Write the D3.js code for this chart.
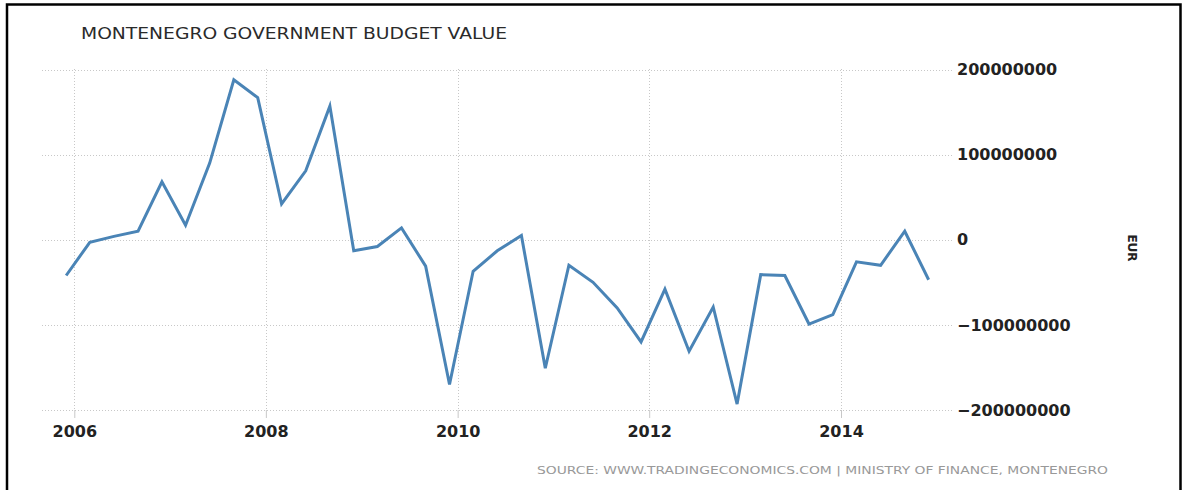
<!DOCTYPE html>
<html>
<head>
<meta charset="utf-8">
<script src="https://cdn.jsdelivr.net/npm/d3@7"></script>
<style>
  body { margin: 0; background: #fff; }
  svg { display: block; }
</style>
</head>
<body>
<svg id="chart" width="1182" height="490"></svg>
<script>
// quarterly budget values, millions EUR
var dates = ["2005-12", "2006-03", "2006-06", "2006-09", "2006-12", "2007-03", "2007-06", "2007-09",
  "2007-12", "2008-03", "2008-06", "2008-09", "2008-12", "2009-03", "2009-06", "2009-09",
  "2009-12", "2010-03", "2010-06", "2010-09", "2010-12", "2011-03", "2011-06", "2011-09",
  "2011-12", "2012-03", "2012-06", "2012-09", "2012-12", "2013-03", "2013-06", "2013-09",
  "2013-12", "2014-03", "2014-06", "2014-09", "2014-12"];
var values = [-42, -3, 4, 10, 68, 17, 90, 188,
  167, 42, 81, 157, -13, -8, 14, -31,
  -170, -37, -13, 5, -151, -30, -50, -80,
  -120, -58, -131, -79, -193, -41, -42, -99,
  -88, -26, -30, 10, -47];
var yTicks = [200000000, 100000000, 0, -100000000, -200000000];
var xTicks = [2006, 2008, 2010, 2012, 2014];

var title = "MONTENEGRO GOVERNMENT BUDGET VALUE";
var source = "SOURCE: WWW.TRADINGECONOMICS.COM | MINISTRY OF FINANCE, MONTENEGRO";

var parse = d3.timeParse("%Y-%m");
var data = dates.map(function(d, i) {
  return { date: parse(d), value: values[i] * 1e6 };
});

var svg = d3.select("#chart");

// frame
svg.append("path")
  .attr("d", "M7,490 V4.5 H1180.5 V490")
  .attr("fill", "none")
  .attr("stroke", "#000")
  .attr("stroke-width", 2.5);

var x = d3.scaleTime()
  .domain([new Date(2006, 0, 1), new Date(2014, 0, 1)])
  .range([74.3, 841]);

var y = d3.scaleLinear()
  .domain([-200000000, 200000000])
  .range([410, 69.5]);

var gridLeft = 42, gridRight = 952;

// horizontal grid
svg.append("g")
  .selectAll("line")
  .data(yTicks)
  .enter()
  .append("line")
  .attr("x1", gridLeft)
  .attr("x2", gridRight)
  .attr("y1", function(d) { return Math.round(y(d)) + 0.5; })
  .attr("y2", function(d) { return Math.round(y(d)) + 0.5; })
  .style("stroke", "#c8c8c8")
  .style("stroke-width", 1)
  .style("stroke-dasharray", "1,2");

// vertical grid
svg.append("g")
  .selectAll("line")
  .data(xTicks)
  .enter()
  .append("line")
  .attr("x1", function(d) { return Math.round(x(new Date(d, 0, 1))) + 0.5; })
  .attr("x2", function(d) { return Math.round(x(new Date(d, 0, 1))) + 0.5; })
  .attr("y1", 69)
  .attr("y2", 410)
  .style("stroke", "#c8c8c8")
  .style("stroke-width", 1)
  .style("stroke-dasharray", "1,2");

// x axis ticks + labels
var xAxis = d3.axisBottom(x)
  .tickValues(xTicks.map(function(d) { return new Date(d, 0, 1); }))
  .tickSize(8)
  .tickPadding(8)
  .tickFormat(d3.timeFormat("%Y"));

var gx = svg.append("g")
  .attr("transform", "translate(0,410)")
  .call(xAxis);
gx.select(".domain").remove();
gx.selectAll(".tick line").style("stroke", "#c8c8c8");
gx.selectAll(".tick text")
  .style("font-family", "DejaVu Sans, sans-serif")
  .style("font-weight", "bold")
  .style("font-size", "16px")
  .style("fill", "#222");

// y axis labels on the right
var yAxis = d3.axisRight(y)
  .tickValues(yTicks)
  .tickSize(0)
  .tickPadding(5)
  .tickFormat(d3.format("d"));

var gy = svg.append("g")
  .attr("transform", "translate(" + gridRight + ",0)")
  .call(yAxis);
gy.select(".domain").remove();
gy.selectAll(".tick text")
  .style("font-family", "DejaVu Sans, sans-serif")
  .style("font-weight", "bold")
  .style("font-size", "16px")
  .style("fill", "#222");

// unit label
svg.append("text")
  .attr("transform", "translate(1128,248) rotate(90)")
  .attr("text-anchor", "middle")
  .style("font-family", "DejaVu Sans, sans-serif")
  .style("font-weight", "bold")
  .style("font-size", "12px")
  .style("fill", "#222")
  .text("EUR");

// line
var line = d3.line()
  .x(function(d) { return x(d.date); })
  .y(function(d) { return y(d.value); });

svg.append("path")
  .datum(data)
  .attr("d", line)
  .attr("fill", "none")
  .style("stroke", "#4a84b6")
  .style("stroke-width", 3)
  .style("stroke-linejoin", "miter");

// title
svg.append("text")
  .attr("x", 81)
  .attr("y", 39)
  .attr("textLength", 426)
  .attr("lengthAdjust", "spacingAndGlyphs")
  .style("font-family", "DejaVu Sans, sans-serif")
  .style("font-size", "16px")
  .style("fill", "#2a2a2a")
  .text(title);

// source
svg.append("text")
  .attr("x", 537)
  .attr("y", 474)
  .attr("textLength", 571)
  .attr("lengthAdjust", "spacingAndGlyphs")
  .style("font-family", "DejaVu Sans, sans-serif")
  .style("font-size", "11px")
  .style("fill", "#999")
  .text(source);
</script>
</body>
</html>
